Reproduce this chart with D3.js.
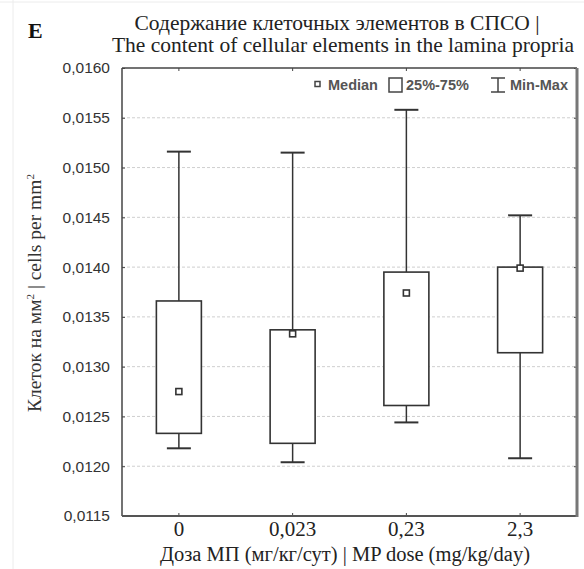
<!DOCTYPE html>
<html><head><meta charset="utf-8">
<script src="https://cdn.jsdelivr.net/npm/d3@7"></script>
<style>body{margin:0;background:#fff}svg{display:block}</style>
</head><body>
<svg id="c" width="584" height="569"></svg>
<script>
const categories = ["0", "0,023", "0,23", "2,3"];
const minVals    = [0.01218, 0.01204, 0.01244, 0.01208];
const q1Vals     = [0.01233, 0.01223, 0.01261, 0.01314];
const medianVals = [0.01275, 0.01333, 0.01374, 0.01399];
const q3Vals     = [0.01366, 0.01337, 0.01395, 0.01400];
const maxVals    = [0.01516, 0.01515, 0.01558, 0.01452];
const yTicks = [0.0115,0.0120,0.0125,0.0130,0.0135,0.0140,0.0145,0.0150,0.0155,0.0160];

const svg = d3.select("#c");
const L = 122, R = 577, T = 68, B = 516;
const x = d3.scaleBand().domain(categories).range([L, R]).padding(0);
const y = d3.scaleLinear().domain([0.0115, 0.0160]).range([B, T]);
const fmt = d => d.toFixed(4).replace(".", ",");
const serif = "'Liberation Serif','Times New Roman',serif";
const sans = "'Liberation Sans',Arial,sans-serif";

// faint page borders
svg.append("line").attr("x1",13).attr("x2",13).attr("y1",0).attr("y2",569).attr("stroke","#ececec");
svg.append("line").attr("x1",0).attr("x2",584).attr("y1",2).attr("y2",2).attr("stroke","#ececec");

// gridlines
svg.append("g").selectAll("line").data(yTicks.slice(1,-1)).join("line")
  .attr("x1", L).attr("x2", R).attr("y1", d => y(d)).attr("y2", d => y(d))
  .attr("stroke", "#cfcfcf").attr("stroke-dasharray", "3,2").attr("stroke-width", 1);

// axes
const ya = svg.append("g").attr("transform", `translate(${L},0)`)
  .call(d3.axisLeft(y).tickValues(yTicks).tickFormat(fmt).tickSizeInner(-3).tickSizeOuter(0).tickPadding(12));
ya.select(".domain").remove();
ya.selectAll("line").attr("stroke","#444");
ya.selectAll("text").attr("font-family", sans).attr("font-size", 15.5).attr("fill", "#333");

const yr = svg.append("g").attr("transform", `translate(${R},0)`)
  .call(d3.axisRight(y).tickValues(yTicks).tickFormat("").tickSizeInner(-3).tickSizeOuter(0));
yr.select(".domain").remove();
yr.selectAll("line").attr("stroke","#444");

const xa = svg.append("g").attr("transform", `translate(0,${B})`)
  .call(d3.axisBottom(x).tickSizeInner(-3).tickSizeOuter(0).tickPadding(5));
xa.select(".domain").remove();
xa.selectAll("line").attr("stroke","#444");
xa.selectAll("text").attr("font-family", serif).attr("font-size", 21).attr("fill", "#222");

const xt = svg.append("g").attr("transform", `translate(0,${T})`)
  .call(d3.axisTop(x).tickFormat("").tickSizeInner(-3).tickSizeOuter(0));
xt.select(".domain").remove();
xt.selectAll("line").attr("stroke","#444");

// frame
svg.append("path").attr("d", `M${L},${T}H${R}`).attr("stroke","#444").attr("stroke-width",1.5).attr("fill","none");
svg.append("path").attr("d", `M${L},${T}V${B}`).attr("stroke","#444").attr("stroke-width",1.5).attr("fill","none");
svg.append("path").attr("d", `M${L},${B}H${R}`).attr("stroke","#555").attr("stroke-width",2).attr("fill","none");
svg.append("path").attr("d", `M${R},${T}V${B+1}`).attr("stroke","#777").attr("stroke-width",3).attr("fill","none");

// boxes
const data = categories.map((c,i) => ({c, min:minVals[i], q1:q1Vals[i], med:medianVals[i], q3:q3Vals[i], max:maxVals[i]}));
const bw = 45, cw = 24;
const g = svg.append("g").selectAll("g").data(data).join("g")
  .attr("transform", d => `translate(${x(d.c) + x.bandwidth()/2},0)`);
const st = "#333";
g.append("line").attr("x1",0).attr("x2",0).attr("y1", d => y(d.max)).attr("y2", d => y(d.q3)).attr("stroke", st).attr("stroke-width",1.5);
g.append("line").attr("x1",0).attr("x2",0).attr("y1", d => y(d.q1)).attr("y2", d => y(d.min)).attr("stroke", st).attr("stroke-width",1.5);
g.append("line").attr("x1",-cw/2).attr("x2",cw/2).attr("y1", d => y(d.max)).attr("y2", d => y(d.max)).attr("stroke", st).attr("stroke-width",2);
g.append("line").attr("x1",-cw/2).attr("x2",cw/2).attr("y1", d => y(d.min)).attr("y2", d => y(d.min)).attr("stroke", st).attr("stroke-width",2);
g.append("rect").attr("x",-bw/2).attr("width",bw).attr("y", d => y(d.q3)).attr("height", d => y(d.q1) - y(d.q3))
  .attr("fill","#fff").attr("stroke", st).attr("stroke-width",1.6);
g.append("rect").attr("x",-3).attr("width",6).attr("y", d => y(d.med)-3).attr("height",6)
  .attr("fill","#fff").attr("stroke", st).attr("stroke-width",1.6);

// legend
const lg = svg.append("g");
lg.append("rect").attr("x",315).attr("y",81.5).attr("width",5).attr("height",5).attr("fill","#fff").attr("stroke","#444").attr("stroke-width",1.5);
lg.append("text").attr("x",328).attr("y",89.5).text("Median");
lg.append("rect").attr("x",389).attr("y",78).attr("width",13).attr("height",14).attr("fill","#fff").attr("stroke","#444").attr("stroke-width",1.5);
lg.append("text").attr("x",406).attr("y",89.5).text("25%-75%");
lg.append("path").attr("d","M491,78H505M498,78V92M491,92H505").attr("stroke","#444").attr("stroke-width",1.5).attr("fill","none");
lg.append("text").attr("x",510).attr("y",89.5).text("Min-Max");
lg.selectAll("text").attr("font-family", sans).attr("font-size", 14.5).attr("font-weight","bold").attr("fill","#555");

// titles
svg.append("text").attr("x",28).attr("y",38).attr("font-family",serif).attr("font-weight","bold").attr("font-size",22).attr("fill","#111").text("E");
svg.append("text").attr("x",337).attr("y",30).attr("text-anchor","middle").attr("font-family",serif).attr("font-size",21.5).attr("fill","#222")
  .text("Содержание клеточных элементов в СПСО |");
svg.append("text").attr("x",343).attr("y",52).attr("text-anchor","middle").attr("font-family",serif).attr("font-size",21.5).attr("fill","#222")
  .text("The content of cellular elements in the lamina propria");
svg.append("text").attr("x",345).attr("y",561).attr("text-anchor","middle").attr("font-family",serif).attr("font-size",20.5).attr("fill","#222")
  .text("Доза МП (мг/кг/сут) | MP dose (mg/kg/day)");
const yl = svg.append("text").attr("transform","translate(41,293) rotate(-90)").attr("text-anchor","middle")
  .attr("font-family",serif).attr("font-size",19.5).attr("fill","#333");
yl.append("tspan").text("Клеток на мм");
yl.append("tspan").attr("font-size",11).attr("dy",-7).text("2");
yl.append("tspan").attr("dy",7).text(" | cells per mm");
yl.append("tspan").attr("font-size",11).attr("dy",-7).text("2");
</script>
</body></html>
